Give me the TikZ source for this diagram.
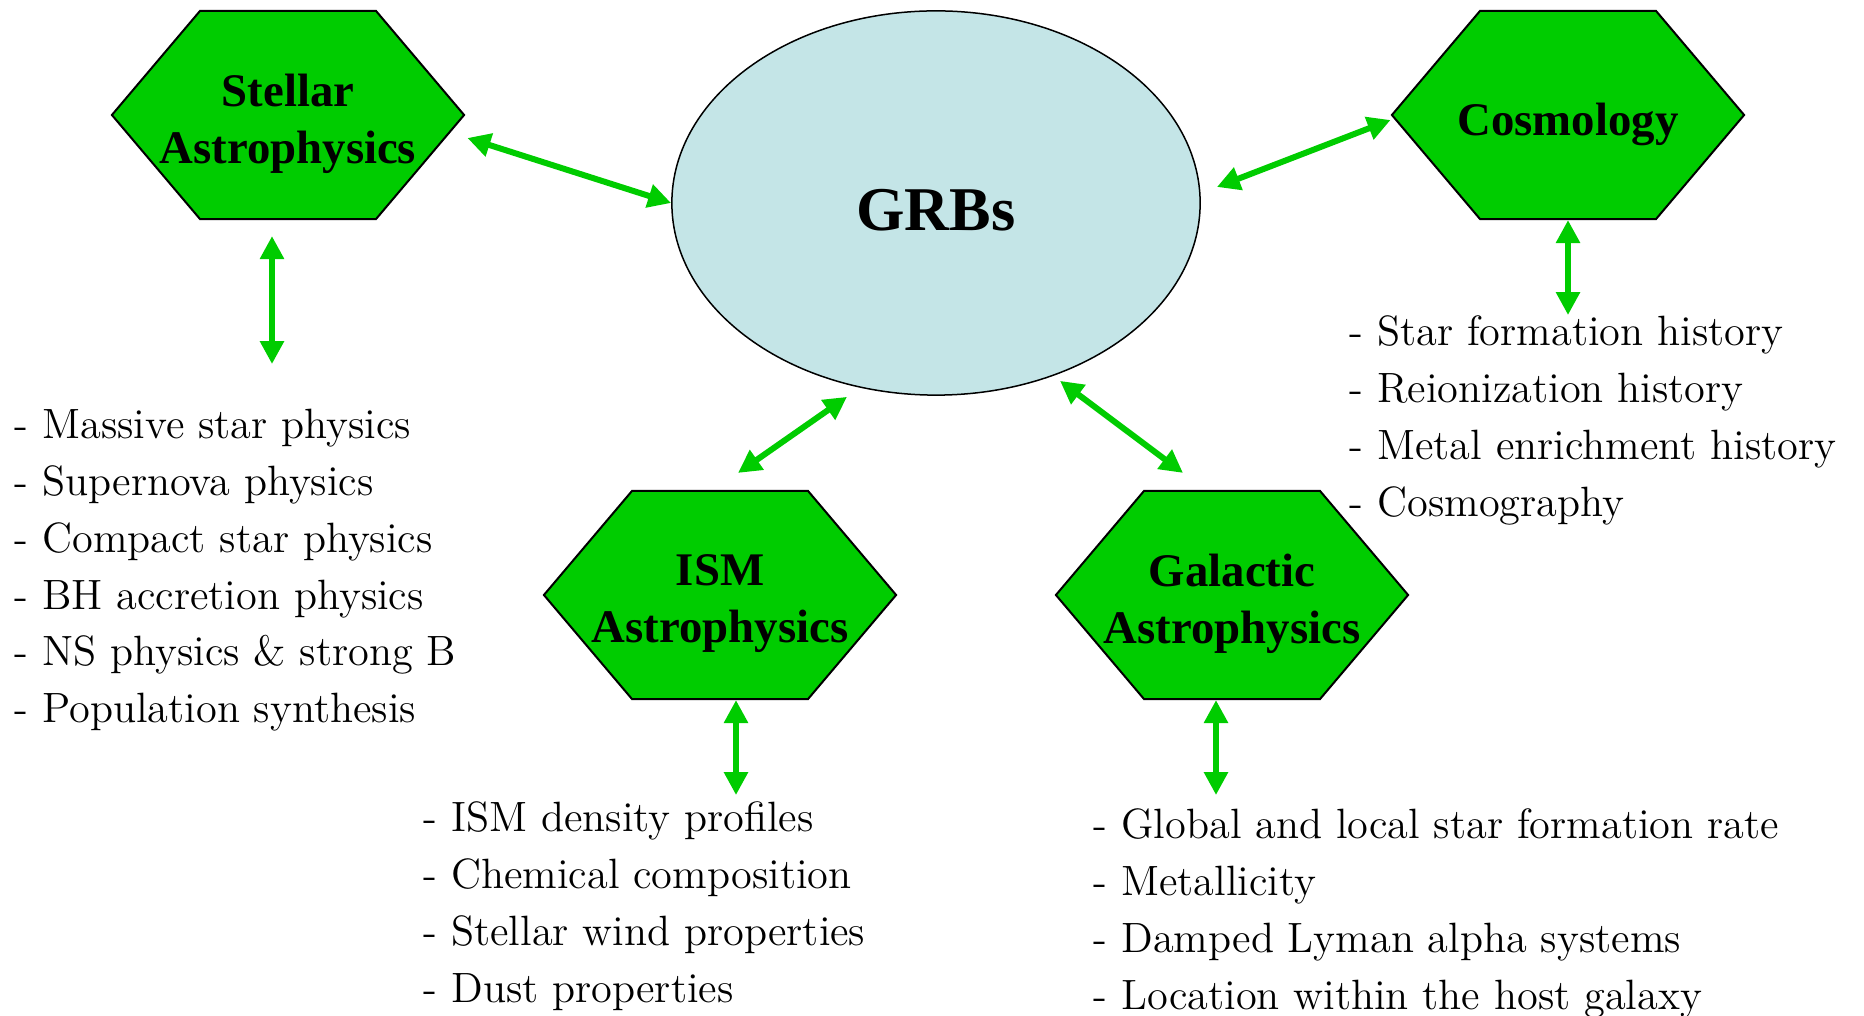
\documentclass[tikz,border=0pt]{standalone}
\usepackage{fontspec}
\newfontfamily\headfont{Liberation Serif}
\usetikzlibrary{arrows.meta,positioning,calc,shapes.geometric,shapes.symbols}
\definecolor{hexgreen}{RGB}{0,204,0}
\definecolor{grbblue}{RGB}{196,229,231}

\begin{document}
\begin{tikzpicture}[
  x=0.01cm, y=-0.01cm,
  field/.style={signal,signal to=east and west,signal from=nowhere,
    signal pointer angle=99.5,draw=black,line width=0.02cm,fill=hexgreen,
    inner sep=0pt,minimum width=3.52cm,minimum height=2.08cm},
  fieldtext/.style={align=center,inner sep=0pt,yshift=-0.09cm,
    font=\headfont\bfseries\fontsize{13.3pt}{16.2pt}\selectfont},
  core/.style={ellipse,draw=black,line width=0.015cm,fill=grbblue,inner sep=0pt,
    minimum width=5.28cm,minimum height=3.84cm},
  coretext/.style={inner sep=0pt,yshift=-0.07cm,
    font=\headfont\bfseries\fontsize{17.7pt}{20pt}\selectfont},
  topics/.style={anchor=north west,inner sep=0pt,align=left,
    font=\fontsize{12.05pt}{16.2pt}\selectfont},
  link/.style={{Triangle[length=0.23cm,width=0.23cm]}-{Triangle[length=0.23cm,width=0.23cm]},
    line width=0.06cm,hexgreen},
]
  \useasboundingbox (0,0) rectangle (1864,1016);

  \node[core,label={[coretext]center:GRBs}] (grb) at (936,203) {};
  \node[field,label={[fieldtext]center:{Stellar\\Astrophysics}}] (stellar) at (288,115) {};
  \node[field,label={[fieldtext]center:Cosmology}] (cosmo) at (1568,115) {};
  \node[field,label={[fieldtext]center:{ISM\\Astrophysics}}] (ism) at (720,595) {};
  \node[field,label={[fieldtext]center:{Galactic\\Astrophysics}}] (galac) at (1232,595) {};

  % Topic lists under each field
  \node[topics] (stellarlist) at (14,408) {- Massive star physics\\- Supernova physics\\
    - Compact star physics\\- BH accretion physics\\- NS physics \& strong B\\
    - Population synthesis};
  \node[topics] (cosmolist) at (1349,315) {- Star formation history\\
    - Reionization history\\- Metal enrichment history\\- Cosmography};
  \node[topics] (ismlist) at (423,801) {- ISM density profiles\\
    - Chemical composition\\- Stellar wind properties\\- Dust properties};
  \node[topics] (galaclist) at (1093,808) {- Global and local star formation rate\\
    - Metallicity\\- Damped Lyman alpha systems\\- Location within the host galaxy};

  % GRBs <-> fields
  \draw[link] ($(stellar.east)+(2,23)$) -- (grb.west);
  \draw[link] ($(grb.east)+(16,-16)$) -- ($(cosmo.west)+(0,5)$);
  \draw[link] ($(grb.south)+(-89,1)$) -- ($(ism.north)+(18,-17)$);
  \draw[link] ($(grb.south)+(124,-15)$) -- ($(galac.north)+(-49,-17)$);

  % Fields <-> topic lists
  \draw[link] ($(stellar.south)+(-16,16)$) -- ++(0,128);
  \draw[link] (cosmo.south) -- ++(0,95);
  \draw[link] ($(ism.south)+(16,0)$) -- ++(0,95);
  \draw[link] ($(galac.south)+(-16,0)$) -- ++(0,95);
\end{tikzpicture}
\end{document}
